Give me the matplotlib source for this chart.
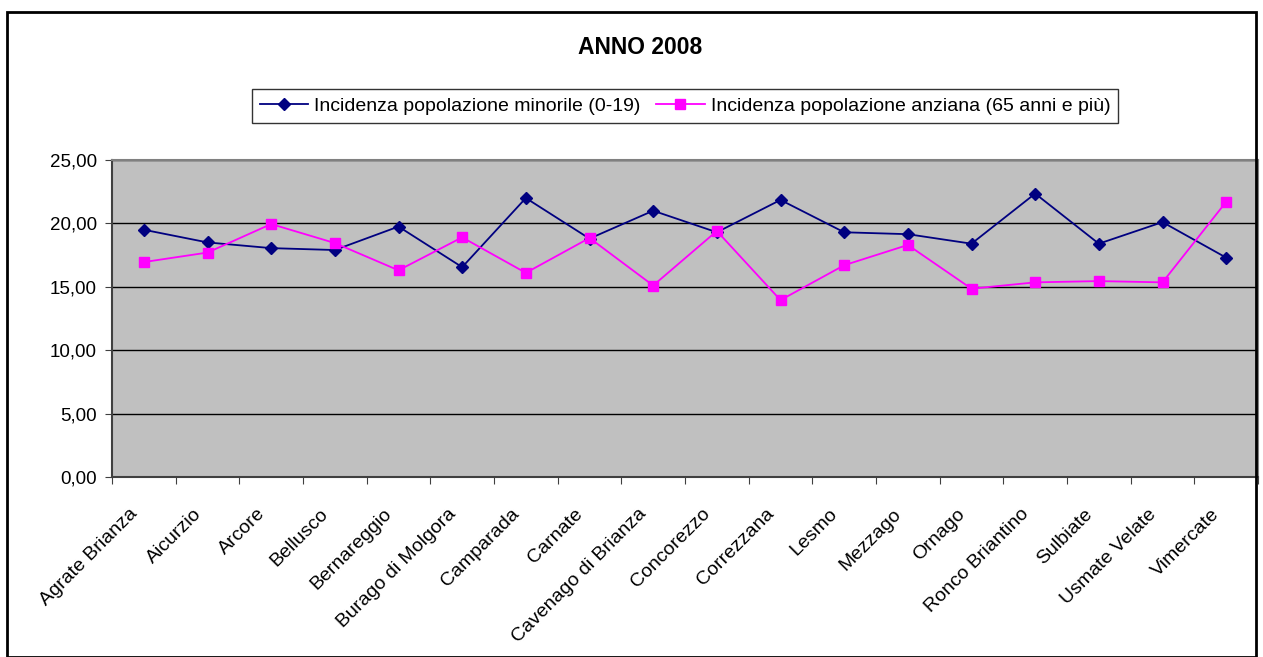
import matplotlib
matplotlib.use("Agg")
import matplotlib.pyplot as plt
from matplotlib.ticker import FuncFormatter
from matplotlib.transforms import ScaledTranslation
import numpy as np

plt.rcParams['font.family'] = ['Liberation Sans', 'DejaVu Sans']

comuni = ['Agrate Brianza', 'Aicurzio', 'Arcore', 'Bellusco', 'Bernareggio',
          'Burago di Molgora', 'Camparada', 'Carnate', 'Cavenago di Brianza',
          'Concorezzo', 'Correzzana', 'Lesmo', 'Mezzago', 'Ornago',
          'Ronco Briantino', 'Sulbiate', 'Usmate Velate', 'Vimercate']
minori = [19.5, 18.5, 18.05, 17.9, 19.75, 16.55, 22.0, 18.8, 21.0,
          19.3, 21.85, 19.3, 19.15, 18.4, 22.35, 18.4, 20.1, 17.3]
anziani = [16.95, 17.7, 19.95, 18.45, 16.3, 18.9, 16.1, 18.85, 15.1,
           19.4, 13.95, 16.7, 18.3, 14.85, 15.35, 15.45, 15.35, 21.7]

fig = plt.figure(figsize=(12.63, 6.57), dpi=100)
ax = fig.add_axes([112/1263, 1-477/657, (1258-112)/1263, (477-160)/657])

x = np.arange(len(comuni)) + 0.5
ax.plot(x, minori, color='#000080', marker='D', markersize=6.5, lw=1.3,
        label='Incidenza popolazione minorile (0-19)')
ax.plot(x, anziani, color='#FF00FF', marker='s', markersize=7.5, lw=1.3,
        label='Incidenza popolazione anziana (65 anni e più)')

ax.set_facecolor('#C0C0C0')
ax.set_xlim(0, len(comuni))
ax.set_ylim(0, 25)
ax.set_yticks(np.arange(0, 26, 5))
ax.yaxis.set_major_formatter(FuncFormatter(lambda v, p: f'{v:.2f}'.replace('.', ',')))
ax.yaxis.grid(True, color='black', lw=1)
ax.set_axisbelow(True)

ax.set_xticks(np.arange(len(comuni) + 1))
ax.set_xticklabels([])
ax.set_xticks(x, minor=True)
ax.set_xticklabels(comuni, minor=True, rotation=45, ha='right', rotation_mode='anchor', fontsize=14)
ax.tick_params(axis='x', which='minor', length=0, pad=14)
ax.tick_params(axis='x', which='major', length=5, direction='out', color='#404040')
ax.tick_params(axis='y', length=5, direction='out', labelsize=13.5, color='#404040', pad=6)
shift = ScaledTranslation(-0.15, -0.09, fig.dpi_scale_trans)
for lbl in ax.get_xticklabels(minor=True):
    lbl.set_transform(lbl.get_transform() + shift)

for s in ['left', 'bottom', 'top', 'right']:
    ax.spines[s].set_color('#808080')
    ax.spines[s].set_linewidth(1.5)
ax.spines['left'].set_color('#404040')
ax.spines['bottom'].set_color('#404040')

fig.text(640/1263, 1-47/657, 'ANNO 2008', ha='center', va='center', fontsize=16.5, fontweight='bold')

leg = fig.legend(loc='center', bbox_to_anchor=(685/1263, 1-106/657), ncol=2,
                 frameon=True, fancybox=False, edgecolor='black', fontsize=14,
                 handlelength=2.5, columnspacing=0.8, borderpad=0.4, handletextpad=0.3)
leg.get_frame().set_linewidth(1)

border = plt.Rectangle((7/1263, 0), (1263-14)/1263, 1-12/657, transform=fig.transFigure,
                       fill=False, edgecolor='black', lw=2)
fig.patches.append(border)

fig.savefig('out.png', dpi=100)
